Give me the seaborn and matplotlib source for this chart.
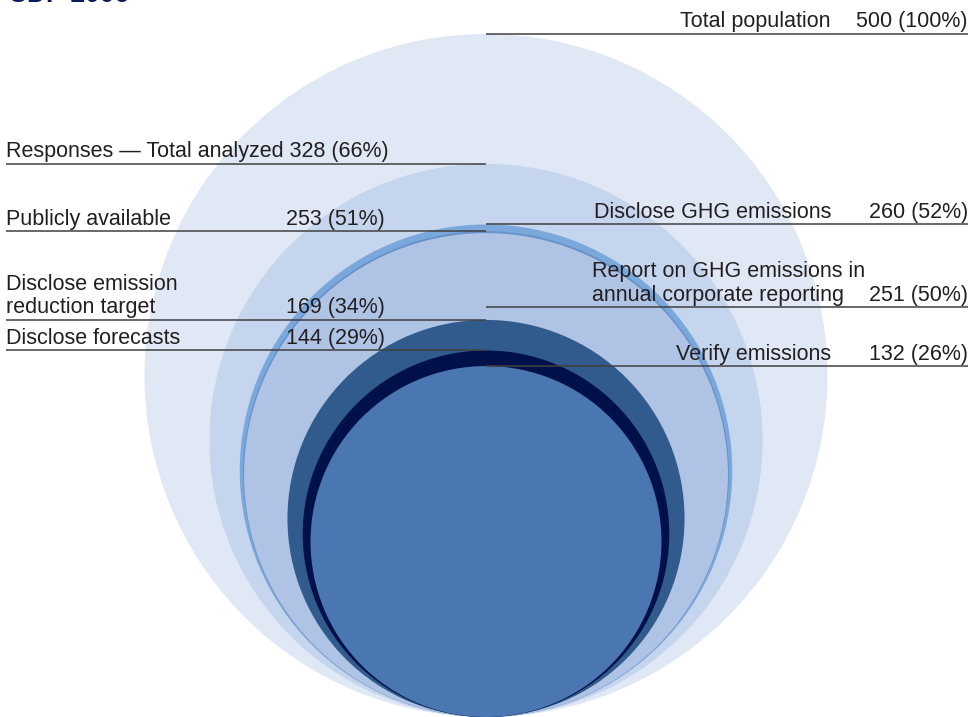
import numpy as np
import pandas as pd
import matplotlib
matplotlib.use("Agg")
import matplotlib.pyplot as plt
from matplotlib.patches import Circle
import seaborn as sns

# ---- data -------------------------------------------------------------
categories = [
    "Total population",
    "Responses \u2014 Total analyzed",
    "Disclose GHG emissions",
    "Publicly available",
    "Report on GHG emissions in\nannual corporate reporting",
    "Disclose emission\nreduction target",
    "Disclose forecasts",
    "Verify emissions",
]
counts = [500, 328, 260, 253, 251, 169, 144, 132]
percents = [100, 66, 52, 51, 50, 34, 29, 26]
fill_colors = ["#e0e8f5", "#c6d5ee", "#7ba8da", "#6791cb",
               "#afc4e5", "#305b8c", "#001048", "#4a77b1"]

df = pd.DataFrame({"category": categories, "count": counts,
                   "pct": percents, "color": fill_colors})

# ---- layout (pixel-like canvas units, y grows downward) ---------------
W, H = 970, 717
CX = 486            # common centre line of the circles
BOTTOM = 717        # all circles touch this line
R_MAX = 341.5       # radius of the full population circle
side = ["right", "left", "right", "left", "right", "left", "left", "right"]
# leader lines sit on the circle tops; this one is moved down for room
line_override = {4: 307}

TEXT = "#231f20"
LINE = "#404040"
FS = 15.5

sns.set_theme(style="white")
plt.rcParams["font.family"] = ["Liberation Sans", "DejaVu Sans"]

fig = plt.figure(figsize=(W / 100, H / 100), dpi=100)
ax = fig.add_axes([0, 0, 1, 1])
ax.set_xlim(0, W)
ax.set_ylim(H, 0)
ax.set_aspect("equal")
ax.axis("off")

# circles: area proportional to the number of companies
df["radius"] = R_MAX * np.sqrt(df["count"] / df["count"].max())
for _, row in df.sort_values("count", ascending=False).iterrows():
    r = row["radius"]
    ax.add_patch(Circle((CX, BOTTOM - r), r, facecolor=row["color"],
                        edgecolor="none", linewidth=0, zorder=1))

# labels and leader lines
for i, row in df.iterrows():
    top = BOTTOM - 2 * row["radius"]
    ly = line_override.get(i, top)
    value = f"{row['count']} ({row['pct']}%)"
    ty = ly - 6.5
    if side[i] == "right":
        ax.plot([CX, 968], [ly, ly], color=LINE, lw=1.1,
                solid_capstyle="butt", zorder=3)
        ax.text(968, ty, value, ha="right", va="baseline",
                fontsize=FS, color=TEXT, zorder=4)
        if i == 4:
            ax.text(592, ty, row["category"], ha="left", va="baseline",
                    fontsize=FS, color=TEXT, linespacing=1.15, zorder=4)
        else:
            ax.text(831, ty, row["category"], ha="right", va="baseline",
                    fontsize=FS, color=TEXT, linespacing=1.15, zorder=4)
    else:
        ax.plot([6, CX], [ly, ly], color=LINE, lw=1.1,
                solid_capstyle="butt", zorder=3)
        if i == 1:
            ax.text(6, ty, f"{row['category']} {value}", ha="left",
                    va="baseline", fontsize=FS, color=TEXT, zorder=4)
        else:
            ax.text(6, ty, row["category"], ha="left", va="baseline",
                    fontsize=FS, color=TEXT, linespacing=1.15, zorder=4)
            ax.text(286, ty, value, ha="left", va="baseline",
                    fontsize=FS, color=TEXT, zorder=4)

# heading, running off the top edge
ax.text(8, 1.5, "CDP 2006", ha="left", va="baseline", fontsize=19,
        fontweight="bold", color="#0b1a5a", clip_on=False)

fig.savefig("out.png", dpi=100)
